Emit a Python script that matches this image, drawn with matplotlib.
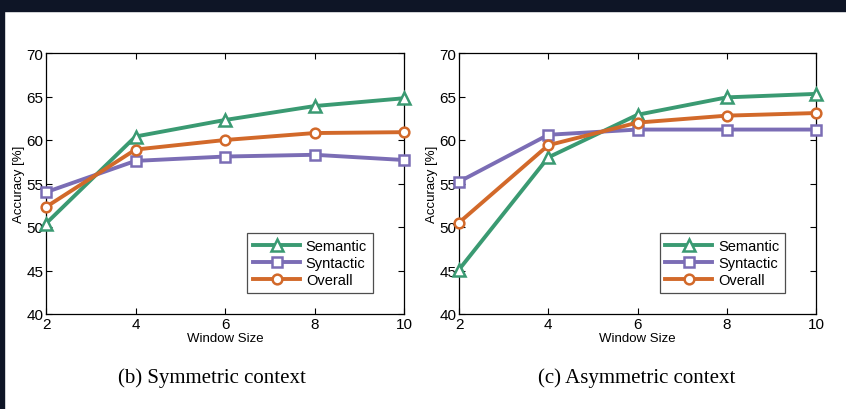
import matplotlib
matplotlib.use("Agg")
import matplotlib.pyplot as plt
from matplotlib.patches import Rectangle

window_sizes = [2, 4, 6, 8, 10]
series_names = ["Semantic", "Syntactic", "Overall"]

sym_semantic = [50.4, 60.4, 62.3, 63.9, 64.8]
sym_syntactic = [54.0, 57.6, 58.1, 58.3, 57.7]
sym_overall = [52.3, 58.9, 60.0, 60.8, 60.9]

asym_semantic = [45.1, 58.0, 62.9, 64.9, 65.3]
asym_syntactic = [55.2, 60.6, 61.2, 61.2, 61.2]
asym_overall = [50.5, 59.4, 62.0, 62.8, 63.1]

captions = ["(b) Symmetric context", "(c) Asymmetric context"]
y_ticks = [40, 45, 50, 55, 60, 65, 70]

colors = ["#3a9a72", "#7b6db5", "#d2692a"]
markers = ["^", "s", "o"]

plt.rcParams['font.family'] = ['Liberation Sans', 'DejaVu Sans']

W, H = 846, 410
fig = plt.figure(figsize=(W / 100, H / 100), dpi=100)
fig.patch.set_facecolor("white")

def ax_rect(x0, x1, y0, y1):
    return [x0 / W, 1 - y1 / H, (x1 - x0) / W, (y1 - y0) / H]

panels = [
    (ax_rect(46, 404, 54, 315), [sym_semantic, sym_syntactic, sym_overall], captions[0], 212),
    (ax_rect(459, 816, 54, 315), [asym_semantic, asym_syntactic, asym_overall], captions[1], 637),
]

for rect, data, cap, capx in panels:
    ax = fig.add_axes(rect)
    for vals, name, c, m in zip(data, series_names, colors, markers):
        ax.plot(window_sizes, vals, color=c, lw=2.8, marker=m, ms=8.5 if m == "^" else 7,
                mfc="white", mec=c, mew=1.8, label=name, clip_on=False, zorder=3)
    ax.set_xlim(2, 10)
    ax.set_ylim(40, 70)
    ax.set_xticks(window_sizes)
    ax.set_yticks(y_ticks)
    ax.tick_params(direction="in", top=True, right=True, length=4, width=0.8,
                   labelsize=11, pad=2)
    for s in ax.spines.values():
        s.set_linewidth(0.9)
    ax.set_xlabel("Window Size", fontsize=9.5, labelpad=1)
    ax.set_ylabel("Accuracy [%]", fontsize=9.5, labelpad=1)
    leg = ax.legend(loc="lower right", bbox_to_anchor=(0.913, 0.082), fontsize=10.5,
                    frameon=True, fancybox=False, edgecolor="#222222",
                    handlelength=3.2, borderpad=0.4, labelspacing=0.2,
                    handletextpad=0.4, borderaxespad=0)
    leg.get_frame().set_linewidth(0.9)
    fig.text(capx / W, 1 - 378 / H, cap, ha="center", va="center",
             fontsize=15, family=["Liberation Serif", "DejaVu Serif"])

dark = "#0e1526"
fig.add_artist(Rectangle((0, 1 - 12 / H), 1, 12 / H, transform=fig.transFigure,
                         color=dark, zorder=10))
fig.add_artist(Rectangle((0, 0), 4 / W, 1, transform=fig.transFigure,
                         color=dark, zorder=10))

fig.savefig("out.png", dpi=100)
